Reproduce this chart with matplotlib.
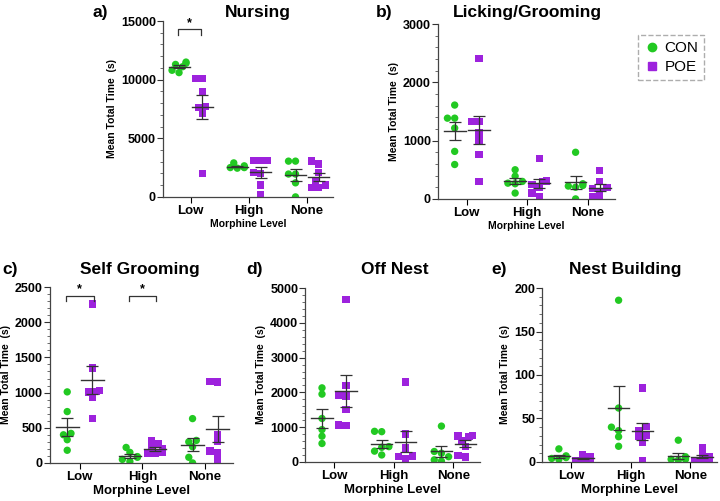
import numpy as np
import matplotlib
matplotlib.use("Agg")
import matplotlib.pyplot as plt
from matplotlib.lines import Line2D
from matplotlib.ticker import MultipleLocator, AutoMinorLocator

plt.rcParams['font.family'] = ['Liberation Sans', 'DejaVu Sans']
plt.rcParams['font.weight'] = 'bold'
plt.rcParams['axes.labelweight'] = 'bold'

# categories and groups
levels = ["Low", "High", "None"]
groups = ["CON", "POE"]

# values per panel: [Low, High, None] for each group (seconds)
nursing_con = [[11500, 11400, 11300, 11100, 10800, 10600],
               [2900, 2650, 2550, 2500, 2500, 2450],
               [3050, 3050, 1950, 1950, 1200, 0]]
nursing_poe = [[10100, 10100, 9000, 7700, 7600, 7100, 2000],
               [3100, 3100, 3100, 2100, 2000, 1000, 200],
               [3050, 2800, 2100, 1300, 1000, 800, 800]]

licking_con = [[1610, 1385, 1385, 1215, 815, 590],
               [500, 390, 300, 270, 260, 100],
               [800, 260, 230, 220, 200, 0]]
licking_poe = [[2410, 1330, 1330, 1130, 1000, 760, 300],
               [690, 310, 300, 250, 200, 100, 30],
               [490, 300, 200, 180, 130, 30, 20]]

selfgroom_con = [[1010, 730, 420, 400, 330, 180],
                 [220, 150, 90, 80, 50, 20],
                 [630, 320, 300, 230, 80, 0]]
selfgroom_poe = [[2260, 1350, 1030, 1020, 1010, 930, 630],
                 [310, 270, 210, 200, 150, 140, 130],
                 [1160, 1150, 400, 310, 170, 140, 50]]

offnest_con = [[2130, 1950, 1250, 930, 740, 530],
               [880, 870, 440, 420, 310, 200],
               [1030, 300, 250, 150, 60, 20]]
offnest_poe = [[4680, 2200, 1920, 1900, 1500, 1060, 1050],
               [2300, 800, 400, 170, 160, 150, 90],
               [760, 750, 730, 600, 450, 180, 140]]

nestbuild_con = [[15, 7, 6, 5, 4, 3],
                 [186, 62, 40, 36, 29, 18],
                 [25, 6, 4, 3, 3, 2]]
nestbuild_poe = [[8, 6, 5, 4, 3, 2, 1],
                 [85, 41, 36, 31, 29, 22, 1],
                 [16, 8, 6, 5, 3, 2, 1]]

GREEN = '#22c922'
PURPLE = '#9d22dd'
LINE = '#333333'


def swarm(vals, center, yspan):
    # simple beeswarm so overlapping points spread sideways
    vals = np.asarray(vals, float)
    xs = np.zeros(len(vals))
    placed = []
    for i in np.argsort(vals):
        y = vals[i] / yspan
        for k in [0, -1, 1, -2, 2]:
            x = k * 0.06
            if all(((x - px) / 0.09) ** 2 + ((y - py) / 0.035) ** 2 >= 1 for px, py in placed):
                break
        placed.append((x, y))
        xs[i] = center + x
    return xs


def draw_panel(ax, con, poe, ymax, ystep, xlabel_size):
    for data, col, mk, off in [(con, GREEN, 'o', -0.2), (poe, PURPLE, 's', 0.2)]:
        for i, vals in enumerate(data):
            c = i + off
            xs = swarm(vals, c, ymax)
            ax.scatter(xs, vals, s=28, marker=mk, color=col, edgecolors='none', zorder=2)
            m = np.mean(vals)
            sem = np.std(vals, ddof=1) / np.sqrt(len(vals))
            ax.plot([c - 0.18, c + 0.18], [m, m], color=LINE, lw=1, zorder=3)
            ax.errorbar([c], [m], yerr=[sem], color=LINE, lw=0.9, capsize=4,
                        capthick=0.9, zorder=3)
    ax.set_xlim(-0.48, 2.45)
    ax.set_ylim(0, ymax)
    ax.set_xticks(range(3))
    ax.set_xticklabels(levels)
    ax.yaxis.set_major_locator(MultipleLocator(ystep))
    ax.yaxis.set_minor_locator(AutoMinorLocator(5))
    ax.tick_params(axis='y', which='major', length=4, width=0.8, pad=1,
                   color='#333333', labelsize=9)
    ax.tick_params(axis='y', which='minor', length=2, width=0.6, color='#555555')
    ax.tick_params(axis='x', length=4, width=0.8, pad=2, labelsize=9.5)
    ax.spines['top'].set_visible(False)
    ax.spines['right'].set_visible(False)
    for s in ['left', 'bottom']:
        ax.spines[s].set_color('#444444')
        ax.spines[s].set_linewidth(0.9)
    ax.set_ylabel("Mean Total Time  (s)", fontsize=7.5, labelpad=3)
    ax.set_xlabel("Morphine Level", fontsize=xlabel_size, labelpad=1)


def bracket(ax, x0, x1, y, h):
    ax.plot([x0, x0, x1, x1], [y - h, y, y, y - h], color=LINE, lw=0.9)
    ax.text((x0 + x1) / 2, y, "*", ha='center', va='bottom', fontsize=9)


fig = plt.figure(figsize=(7.2, 5.01), dpi=100)

ax_a = fig.add_axes([0.226, 0.607, 0.237, 0.351])
ax_b = fig.add_axes([0.608, 0.603, 0.246, 0.349])
ax_c = fig.add_axes([0.069, 0.076, 0.255, 0.351])
ax_d = fig.add_axes([0.424, 0.078, 0.243, 0.347])
ax_e = fig.add_axes([0.753, 0.078, 0.243, 0.347])

draw_panel(ax_a, nursing_con, nursing_poe, 15000, 5000, 7.5)
draw_panel(ax_b, licking_con, licking_poe, 3000, 1000, 7.5)
draw_panel(ax_c, selfgroom_con, selfgroom_poe, 2500, 500, 9.5)
draw_panel(ax_d, offnest_con, offnest_poe, 5000, 1000, 9.5)
draw_panel(ax_e, nestbuild_con, nestbuild_poe, 200, 50, 9.5)

bracket(ax_a, -0.22, 0.18, 14300, 500)
bracket(ax_c, -0.22, 0.22, 2380, 80)
bracket(ax_c, 0.78, 1.22, 2380, 80)

# panel letters and titles
tkw = dict(fontsize=12.5, va='center')
fig.text(0.128, 0.975, "a)", ha='left', **tkw)
fig.text(0.358, 0.975, "Nursing", ha='center', **tkw)
fig.text(0.522, 0.975, "b)", ha='left', **tkw)
fig.text(0.732, 0.975, "Licking/Grooming", ha='center', **tkw)
fig.text(0.003, 0.462, "c)", ha='left', **tkw)
fig.text(0.194, 0.462, "Self Grooming", ha='center', **tkw)
fig.text(0.342, 0.462, "d)", ha='left', **tkw)
fig.text(0.548, 0.462, "Off Nest", ha='center', **tkw)
fig.text(0.683, 0.462, "e)", ha='left', **tkw)
fig.text(0.868, 0.462, "Nest Building", ha='center', **tkw)

handles = [Line2D([], [], marker='o', color=GREEN, ls='none', markersize=6),
           Line2D([], [], marker='s', color=PURPLE, ls='none', markersize=6)]
leg = fig.legend(handles, groups, loc='upper left', bbox_to_anchor=(0.876, 0.945),
                 prop={'size': 11, 'weight': 'normal'}, frameon=True, fancybox=False,
                 handletextpad=0.3, borderpad=0.4, handlelength=1.0, labelspacing=0.3)
leg.get_frame().set_edgecolor('#999999')
leg.get_frame().set_linestyle('--')
leg.get_frame().set_linewidth(1.0)

fig.savefig("out.png", dpi=100)
